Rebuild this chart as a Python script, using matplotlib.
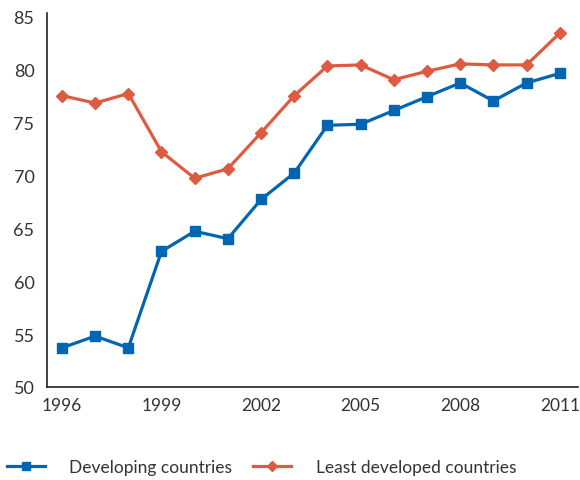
import numpy as np
import matplotlib.pyplot as plt

years = list(range(1996, 2012))
developing = [53.7, 54.8, 53.7, 62.8, 64.7, 64.0, 67.7, 70.2, 74.7, 74.8,
              76.1, 77.4, 78.7, 77.0, 78.7, 79.6]
least_developed = [77.5, 76.8, 77.7, 72.2, 69.7, 70.6, 74.0, 77.5, 80.3, 80.4,
                   79.0, 79.8, 80.5, 80.4, 80.4, 83.4]
xticks = [1996, 1999, 2002, 2005, 2008, 2011]
yticks = [50, 55, 60, 65, 70, 75, 80, 85]

blue = '#0066b3'
red = '#dd5b40'
txt = '#333333'

plt.rcParams['font.family'] = ['Lato', 'DejaVu Sans']

fig = plt.figure(figsize=(5.8, 4.81), dpi=100)
ax = fig.add_axes([47 / 580, 1 - 388 / 481, (578 - 47) / 580, (388 - 14) / 481])

ax.plot(years, developing, color=blue, lw=2.3, marker='s', ms=6.5,
        label='Developing countries')
ax.plot(years, least_developed, color=red, lw=2.3, marker='D', ms=6,
        label='Least developed countries')

ax.set_xlim(1995.55, 2011.55)
ax.set_ylim(50, 85.3)
ax.set_xticks(xticks)
ax.set_yticks(yticks)
ax.tick_params(length=0, labelsize=13, colors=txt, pad=7)
ax.tick_params(axis='x', labelsize=12.5)
ax.tick_params(axis='y', pad=9)

for s in ['top', 'right']:
    ax.spines[s].set_visible(False)
for s in ['left', 'bottom']:
    ax.spines[s].set_color('#222222')
    ax.spines[s].set_linewidth(1.2)

leg = fig.legend(loc='lower left', bbox_to_anchor=(0.0, -0.005), ncol=2,
                 frameon=False, fontsize=12.5, handlelength=2.2, markerscale=0.8,
                 columnspacing=1.2, handletextpad=1.4, borderaxespad=0.0)
for t in leg.get_texts():
    t.set_color(txt)

fig.savefig('out.png', dpi=100)
